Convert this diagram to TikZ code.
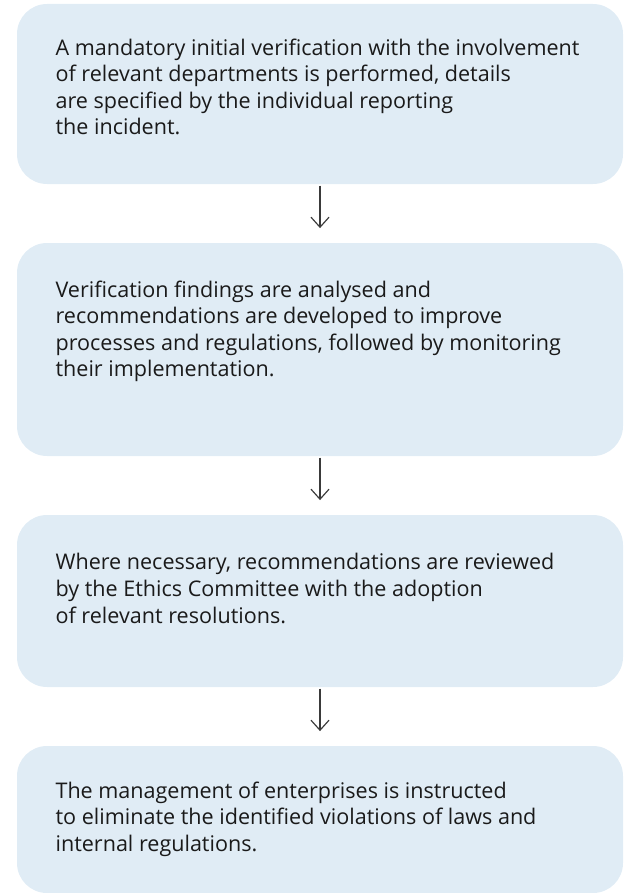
\documentclass[tikz,border=0pt]{standalone}
\usepackage{fontspec}
\setmainfont{Open Sans}
\usetikzlibrary{arrows.meta}
\definecolor{cfill}{HTML}{E0ECF5}
\definecolor{ctext}{HTML}{1A1A1A}
\definecolor{carrow}{HTML}{3A3A3A}
\tikzset{
  every picture/.style={font=\fontsize{18.4}{22.7}\selectfont, line width=1pt},
  card/.style={fill=cfill, rounded corners=0.9cm, minimum width=18.18cm, inner sep=0pt},
  txt/.style={anchor=north west, align=left, inner sep=0pt, text=ctext},
  arrow/.style={-{Straight Barb[length=0.3cm, width=0.54cm]}, draw=carrow, shorten <=0.03cm, shorten >=0.43cm},
}
\begin{document}
\begin{tikzpicture}
  \useasboundingbox (0,0) rectangle (18.69,-26.79);
  % cards
  \node[card, minimum height=5.4cm] (b1) at (9.6,-2.82) {};
  \node[card, minimum height=6.39cm] (b2) at (9.6,-10.485) {};
  \node[card, minimum height=5.16cm] (b3) at (9.6,-18.03) {};
  \node[card, minimum height=4.41cm] (b4) at (9.6,-24.585) {};
  % texts
  \node[txt] (t1) at (1.65,-1.14) {A mandatory initial verification with the involvement\\of relevant departments is performed, details\\are specified by the individual reporting\\the incident.};
  \node[txt] (t2) at (1.65,-8.4) {Verification findings are analysed and\\recommendations are developed to improve\\processes and regulations, followed by monitoring\\their implementation.};
  \node[txt] (t3) at (1.65,-16.59) {Where necessary, recommendations are reviewed\\by the Ethics Committee with the adoption\\of relevant resolutions.};
  \node[txt] (t4) at (1.65,-23.43) {The management of enterprises is instructed\\to eliminate the identified violations of laws and\\internal regulations.};
  % arrows
  \draw[arrow] (b1.south) -- (b2.north);
  \draw[arrow] (b2.south) -- (b3.north);
  \draw[arrow] (b3.south) -- (b4.north);
\end{tikzpicture}
\end{document}
